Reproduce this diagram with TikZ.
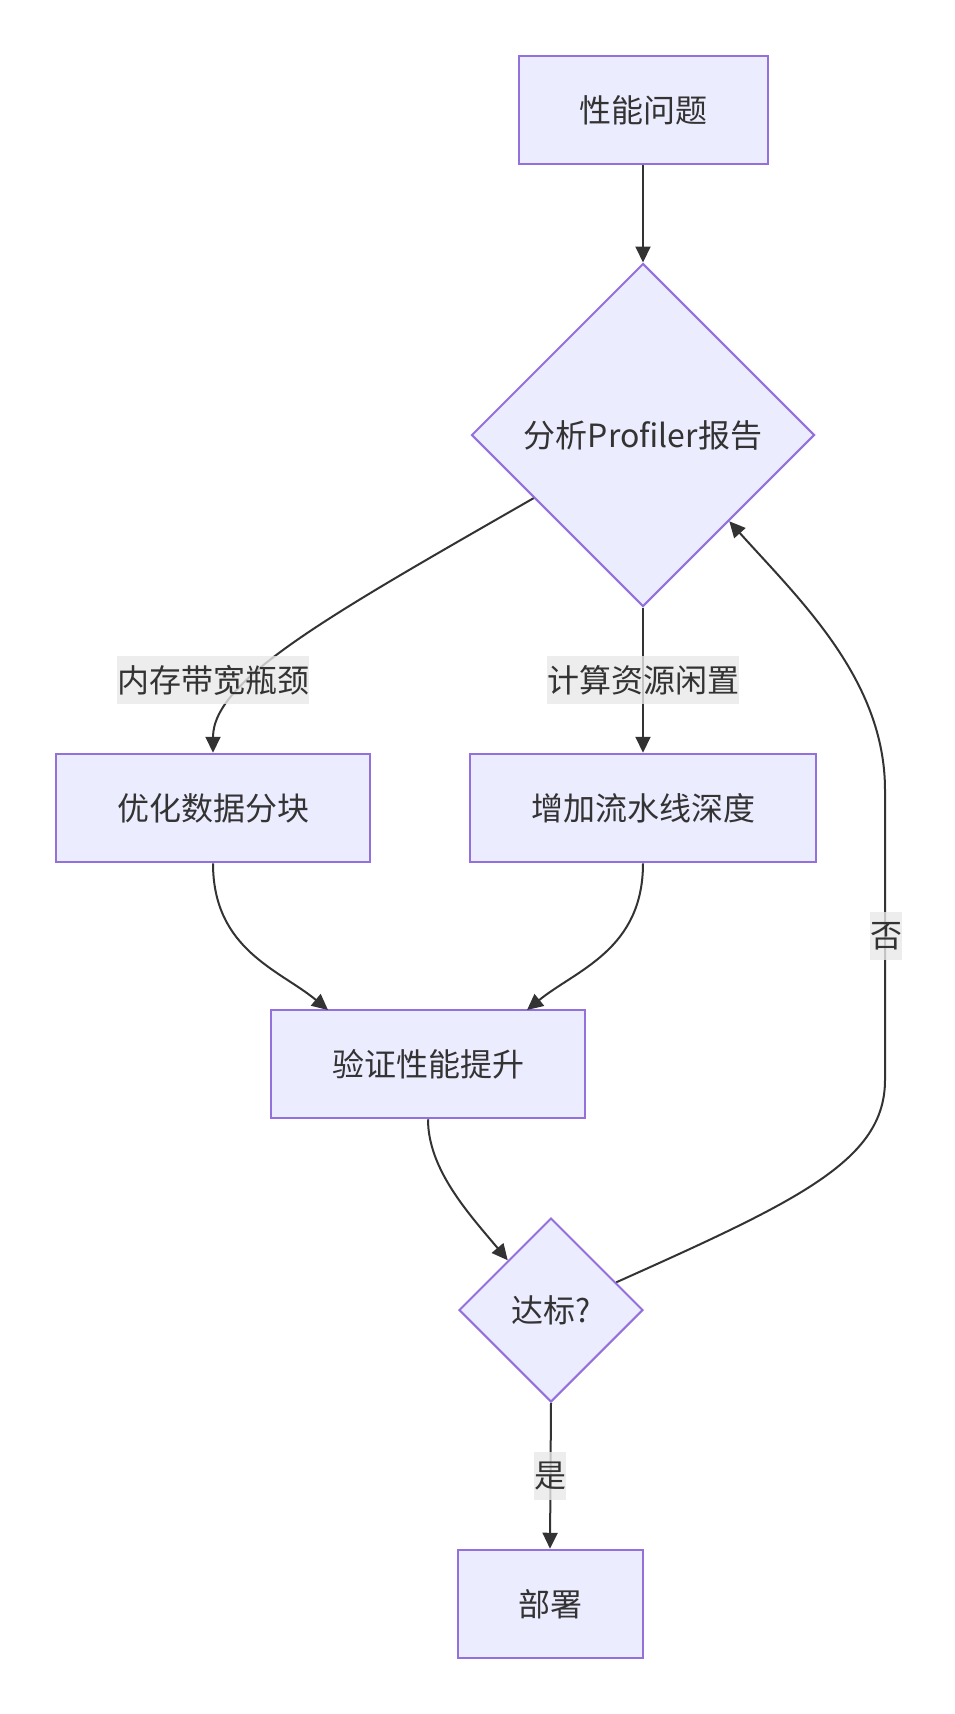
\documentclass[tikz,border=0pt]{standalone}
\usepackage{fontspec}
\setmainfont{Noto Sans CJK SC}
\usetikzlibrary{shapes.geometric}
\usetikzlibrary{arrows.meta}

\definecolor{nodefill}{HTML}{ECECFF}
\definecolor{nodeline}{HTML}{9370DB}
\definecolor{edgeline}{HTML}{333333}
\definecolor{labelfill}{HTML}{E8E8E8}

\tikzset{
  box/.style={draw=nodeline, fill=nodefill, line width=1pt, inner sep=0pt,
    minimum height=54.25pt, text=edgeline},
  decision/.style={diamond, aspect=1, draw=nodeline, fill=nodefill, line width=1pt,
    inner sep=0pt, text=edgeline},
  lbl/.style={fill=labelfill, fill opacity=0.8, text opacity=1, text=edgeline,
    inner xsep=0pt, inner ysep=0pt, minimum height=24pt},
  edge/.style={draw=edgeline, line width=1pt, -{Triangle[length=8pt,width=7.5pt]}}
}

\begin{document}
\begin{tikzpicture}[x=0.5pt, y=-0.5pt, font=\fontsize{16pt}{19pt}\selectfont]
    \useasboundingbox (0,0) rectangle (954,1714);

    % draw nodes
    \node[box, minimum width=124.5pt] (problem) at (643,110) {性能问题};
    \node[decision, minimum width=171.5pt, minimum height=171.5pt] (analyse) at (643,435) {分析Profiler报告};
    \node[box, minimum width=157.25pt] (tiling) at (213,808) {优化数据分块};
    \node[box, minimum width=173pt] (pipeline) at (643,808) {增加流水线深度};
    \node[box, minimum width=157pt] (verify) at (428,1064) {验证性能提升};
    \node[decision, minimum width=92pt, minimum height=92pt] (target) at (551,1310) {达标?};
    \node[box, minimum width=92.5pt] (deploy) at (550,1604) {部署};

    % draw edges
    \draw[edge] (problem.south) -- (analyse.north);
    \draw[edge] (analyse.210) .. controls (330,615) and (213,680) .. (tiling.north);
    \draw[edge] (analyse.south) -- (pipeline.north);
    \draw[edge] (tiling.south) .. controls (213,950) and (280,970) .. (328,1010);
    \draw[edge] (pipeline.south) .. controls (643,950) and (576,970) .. (527,1010);
    \draw[edge] (verify.south) .. controls (428,1170) and (470,1215) .. (target.131);
    \draw[edge] (target.23) .. controls (800,1200) and (885,1160) .. (885,1080)
      -- (885,790) .. controls (885,680) and (800,600) .. (analyse.-45);
    \draw[edge] (target.south) -- (deploy.north);

    % draw edge labels
    \node[lbl] (memlbl) at (213,680) {内存带宽瓶颈};
    \node[lbl] (idlelbl) at (643,680) {计算资源闲置};
    \node[lbl] (nolbl) at (886,936) {否};
    \node[lbl] (yeslbl) at (550,1476) {是};
  \end{tikzpicture}
\end{document}
